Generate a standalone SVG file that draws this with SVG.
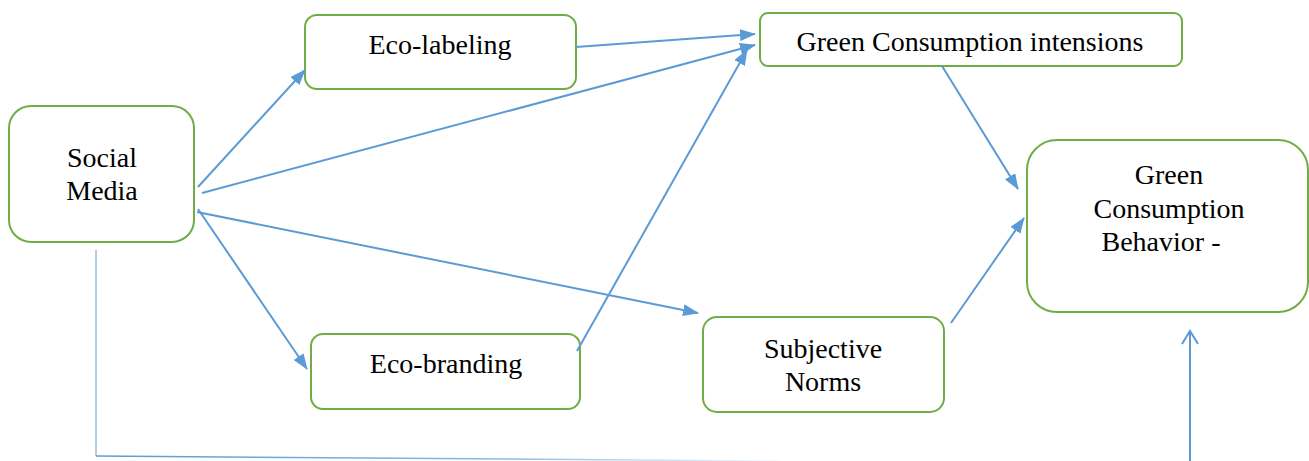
<svg xmlns="http://www.w3.org/2000/svg" width="1309" height="461" viewBox="0 0 1309 461">
<defs>
<marker id="ah" markerUnits="userSpaceOnUse" markerWidth="16" markerHeight="12" refX="15" refY="6" orient="auto"><path d="M0,0 L16,6 L0,12 Z" fill="#5B9BD5"/></marker>
<marker id="oh" markerUnits="userSpaceOnUse" markerWidth="20" markerHeight="20" refX="15" refY="9" orient="auto"><path d="M2,1 L15,9 L2,17" fill="none" stroke="#5B9BD5" stroke-width="2"/></marker>
<linearGradient id="fade" x1="0" y1="0" x2="1" y2="0"><stop offset="0" stop-color="#5B9BD5"/><stop offset="0.6" stop-color="#5B9BD5" stop-opacity="0.7"/><stop offset="1" stop-color="#5B9BD5" stop-opacity="0.05"/></linearGradient>
</defs>
<style>
.box{fill:#fff;stroke:#70AD47;stroke-width:2}
.t{font-size:28px;fill:#000;text-anchor:middle}
.c{stroke:#5B9BD5;stroke-width:2;fill:none}
</style>
<rect width="1309" height="461" fill="#fff"/>
<g font-family="Liberation Serif, DejaVu Serif, serif">
<g id="social-media"><rect class="box" x="9" y="106" width="185" height="136" rx="22"/><text class="t" x="102" y="167">Social</text><text class="t" x="102" y="200">Media</text></g>
<g id="eco-labeling"><rect class="box" x="305" y="15" width="271" height="74" rx="12"/><text class="t" x="440" y="54">Eco-labeling</text></g>
<g id="gci"><rect class="box" x="760" y="13" width="422" height="53" rx="8"/><text class="t" x="970" y="51">Green Consumption intensions</text></g>
<g id="gcb"><rect class="box" x="1027" y="140" width="281" height="172" rx="30"/><text class="t" x="1169" y="184">Green</text><text class="t" x="1169" y="218">Consumption</text><text class="t" x="1161" y="251">Behavior -</text></g>
<g id="eco-branding"><rect class="box" x="311" y="334" width="269" height="75" rx="12"/><text class="t" x="446" y="373">Eco-branding</text></g>
<g id="subjective-norms"><rect class="box" x="703" y="317" width="241" height="95" rx="14"/><text class="t" x="823" y="358">Subjective</text><text class="t" x="823" y="391">Norms</text></g>
</g>
<g id="connectors">
<line class="c" x1="198" y1="187" x2="305" y2="70" marker-end="url(#ah)"/>
<line class="c" x1="202" y1="193" x2="755" y2="45" marker-end="url(#ah)"/>
<line class="c" x1="576" y1="47" x2="755" y2="34" marker-end="url(#ah)"/>
<line class="c" x1="197" y1="212" x2="698" y2="313" marker-end="url(#ah)"/>
<line class="c" x1="198" y1="209" x2="307" y2="369" marker-end="url(#ah)"/>
<line class="c" x1="577" y1="351" x2="747" y2="50" marker-end="url(#ah)"/>
<line class="c" x1="942" y1="66" x2="1018" y2="189" marker-end="url(#ah)"/>
<line class="c" x1="951" y1="323" x2="1024" y2="218" marker-end="url(#ah)"/>
<line class="c" x1="1190" y1="461" x2="1190" y2="331" marker-end="url(#oh)"/>
<path d="M96,250 L96,456" stroke="#5B9BD5" stroke-width="1" fill="none"/>
<path d="M96,456 L780,461" stroke="url(#fade)" stroke-width="1.5" fill="none"/>
</g>
</svg>
